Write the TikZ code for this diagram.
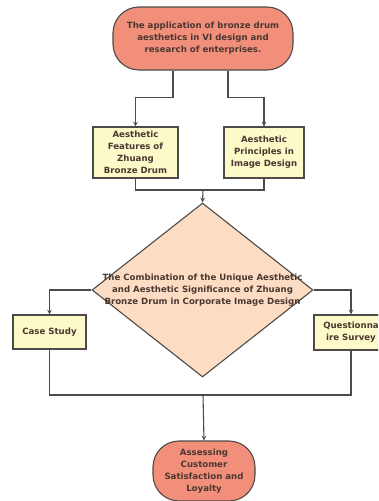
\documentclass[tikz,border=0pt]{standalone}
\usepackage{fontspec}
\setmainfont{DejaVu Sans}
\usetikzlibrary{shapes.geometric}
\definecolor{salmon}{HTML}{F28F7B}
\definecolor{paleyel}{HTML}{FCFAC8}
\definecolor{peach}{HTML}{FCDDC3}
\definecolor{edge}{HTML}{4E4A48}
\definecolor{txt}{HTML}{4A3731}
\begin{document}
\begin{tikzpicture}[x=1pt,y=-1pt,>=stealth,
  font=\bfseries\fontsize{8.6}{12}\selectfont,text=txt,
  ln/.style={draw=edge,line width=1.1pt},
  term/.style={ln,fill=salmon,rounded corners=26pt,align=center,inner sep=0pt},
  bx/.style={ln,fill=paleyel,align=center,inner sep=0pt},
  dec/.style={ln,fill=peach,diamond,inner sep=0pt}]
  \fill[white] (0,0) rectangle (378,501);
  \clip (0,0) rectangle (378,501);
  \node[term,minimum width=180pt,minimum height=63pt] (top) at (203,38.5)
    {The application of bronze drum\\aesthetics in VI design and\\research of enterprises.};
  \node[bx,minimum width=85pt,minimum height=51pt] (lb) at (135.5,152.5)
    {Aesthetic\\Features of\\Zhuang\\Bronze Drum};
  \node[bx,minimum width=80pt,minimum height=51pt] (rb) at (264,152.5)
    {Aesthetic\\Principles in\\Image Design};
  \node[dec,minimum width=221pt,minimum height=174pt] (dia) at (202.5,290) {};
  \node[align=center] (diat) at (dia.center)
    {The Combination of the Unique Aesthetic\\and Aesthetic Significance of Zhuang\\Bronze Drum in Corporate Image Design};
  \node[bx,minimum width=73pt,minimum height=34pt] (cs) at (49.5,332) {Case Study};
  \node[bx,minimum width=74pt,minimum height=35pt] (qs) at (351,332.5) {Questionna\\ire Survey};
  \node[term,minimum width=102pt,minimum height=60pt] (bt) at (204,471)
    {Assessing\\Customer\\Satisfaction and\\Loyalty};
  \coordinate (j) at (203,190);
  \coordinate (m) at (203,395);
  \draw[ln,->] ([xshift=-30pt]top.south) -- ++(0,27) -| (lb.north);
  \draw[ln,->] ([xshift=25pt]top.south) -- ++(0,27) -| (rb.north);
  \draw[ln] (lb.south) |- (j) -| (rb.south);
  \draw[ln,->] (j) -- (dia.north);
  \draw[ln,->] (dia.west) -| (cs.north);
  \draw[ln,->] (dia.east) -| (qs.north);
  \draw[ln] (cs.south) |- (m) -| (qs.south);
  \draw[ln,->] (m) -- (bt.north);
\end{tikzpicture}
\end{document}
